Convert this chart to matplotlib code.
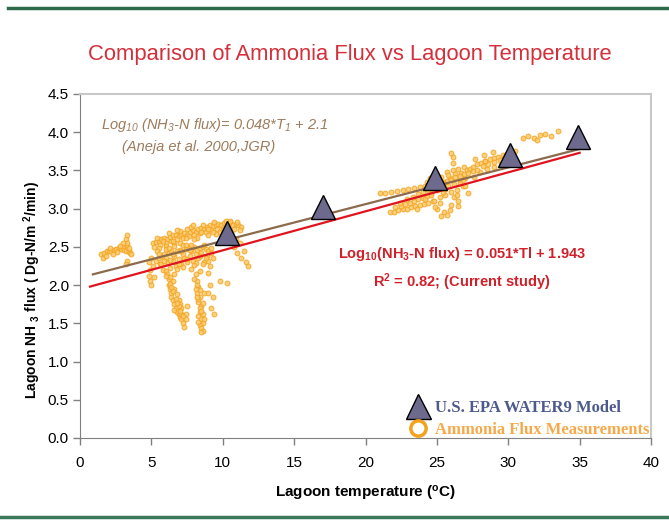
import numpy as np
import matplotlib
matplotlib.use("Agg")
import matplotlib.pyplot as plt
from matplotlib.lines import Line2D

plt.rcParams['font.family'] = ['Liberation Sans Narrow', 'Liberation Sans', 'DejaVu Sans']
plt.rcParams['mathtext.default'] = 'regular'

low_x = [1.5, 1.7, 1.9, 2.0, 2.2, 2.4, 2.5, 2.7, 2.9, 3.0, 3.1, 3.2, 3.3, 3.4, 3.5, 3.6,
	3.2, 3.3, 3.3, 3.2, 3.3, 1.6, 2.1, 2.6, 3.0, 1.8, 2.3, 2.8, 3.4]
low_y = [2.40, 2.42, 2.44, 2.45, 2.44, 2.46, 2.47, 2.48, 2.47, 2.50, 2.46, 2.44, 2.52, 2.45, 2.42, 2.40,
	2.60, 2.66, 2.32, 2.28, 2.55, 2.36, 2.48, 2.43, 2.55, 2.38, 2.41, 2.51, 2.48]

band_x = [5.1, 5.3, 5.5, 5.7, 5.9, 6.1, 6.3, 6.5, 6.7, 6.9, 7.1, 7.3, 7.5, 7.7, 7.9, 8.1,
	8.3, 8.5, 8.7, 8.9, 9.1, 9.3, 9.5, 9.7, 9.9, 10.1, 10.3, 10.5, 10.7, 10.9, 11.1, 11.3,
	5.2, 5.6, 6.0, 6.4, 6.8, 7.2, 7.6, 8.0, 8.4, 8.8, 9.2, 9.6, 10.0, 10.4, 10.8, 11.2,
	5.4, 5.8, 6.2, 6.6, 7.0, 7.4, 7.8, 8.2, 8.6, 9.0, 9.4, 9.8, 10.2, 10.6, 11.0,
	5.5, 6.0, 6.5, 7.0, 7.5, 8.0, 8.5, 9.0, 9.5, 10.0, 10.5, 6.8, 7.9, 9.3, 10.7]
band_y = [2.55, 2.56, 2.58, 2.60, 2.62, 2.60, 2.63, 2.65, 2.66, 2.64, 2.67, 2.68, 2.66, 2.70, 2.72, 2.70,
	2.73, 2.75, 2.74, 2.76, 2.78, 2.77, 2.79, 2.80, 2.78, 2.81, 2.80, 2.82, 2.79, 2.80, 2.78, 2.76,
	2.50, 2.52, 2.55, 2.58, 2.60, 2.62, 2.64, 2.65, 2.68, 2.70, 2.72, 2.74, 2.75, 2.76, 2.74, 2.72,
	2.62, 2.57, 2.68, 2.55, 2.71, 2.61, 2.76, 2.62, 2.79, 2.66, 2.83, 2.70, 2.84, 2.69, 2.83,
	2.48, 2.51, 2.58, 2.55, 2.73, 2.60, 2.69, 2.73, 2.67, 2.72, 2.84, 2.72, 2.78, 2.69, 2.62]

mass_x = [4.8, 4.9, 5.0, 5.1, 5.3, 5.5, 5.7, 5.9, 6.0, 6.2, 6.4, 6.6, 6.8, 7.0, 7.2, 7.4, 7.6,
	7.8, 8.0, 8.2, 8.4, 8.6, 8.8, 9.0, 9.2, 5.6, 6.1, 6.5, 6.9, 7.3, 7.7, 8.1, 8.5, 8.9, 9.3,
	5.8, 6.3, 6.7, 7.1, 7.5, 7.9, 8.3, 8.7, 9.1, 4.9, 5.0, 5.2, 4.8,
	5.4, 5.7, 6.0, 6.3, 6.6, 6.9, 7.2, 7.5, 7.8, 8.1, 8.4, 8.7, 9.0, 5.5, 6.2, 6.8, 7.4, 8.0,
	8.6, 9.2, 6.0, 6.6, 7.2, 7.8, 8.4, 9.0, 5.9, 6.5, 7.1, 7.7, 8.8]
mass_y = [2.30, 2.20, 2.35, 2.25, 2.32, 2.36, 2.38, 2.40, 2.35, 2.42, 2.44, 2.38, 2.45, 2.46, 2.40, 2.47, 2.48,
	2.44, 2.50, 2.46, 2.48, 2.50, 2.47, 2.45, 2.42, 2.28, 2.30, 2.32, 2.34, 2.36, 2.38, 2.40, 2.42, 2.38, 2.35,
	2.20, 2.22, 2.25, 2.28, 2.30, 2.32, 2.35, 2.30, 2.25, 2.05, 2.00, 2.10, 2.12,
	2.44, 2.27, 2.47, 2.33, 2.51, 2.28, 2.52, 2.34, 2.53, 2.29, 2.38, 2.53, 2.31, 2.40, 2.48, 2.21, 2.53, 2.26,
	2.27, 2.49, 2.18, 2.15, 2.23, 2.21, 2.19, 2.16, 2.31, 2.41, 2.44, 2.46, 2.36]

streak1_x = [6.1, 6.2, 6.2, 6.3, 6.4, 6.4, 6.5, 6.6, 6.6, 6.7, 6.8, 6.9, 6.9, 7.0, 7.1, 7.1, 7.2,
	7.3, 6.5, 6.8, 7.0, 7.4, 7.5, 6.3, 6.0, 6.3, 6.5, 6.7, 6.9, 7.1, 6.4, 6.6, 6.8, 7.0, 7.2, 7.4]
streak1_y = [2.15, 2.08, 2.00, 1.95, 1.90, 1.85, 1.80, 1.75, 1.95, 1.70, 1.65, 1.62, 1.80, 1.58, 1.55, 1.70, 1.50,
	1.45, 2.05, 1.88, 1.75, 1.62, 1.72, 2.10, 2.12, 2.02, 1.92, 1.82, 1.72, 1.62, 1.98, 1.68, 1.76, 1.66, 1.60, 1.55]

streak2_x = [8.1, 8.2, 8.3, 8.2, 8.4, 8.3, 8.5, 8.4, 8.3, 8.5, 8.6, 8.4, 8.5, 8.6, 8.5, 8.4, 8.3, 8.6, 8.2, 8.7,
	8.0, 8.3, 8.5, 8.6, 8.2, 8.4, 8.7, 8.1]
streak2_y = [2.15, 2.05, 1.98, 1.90, 1.85, 1.78, 1.72, 1.65, 1.60, 1.55, 1.50, 1.48, 1.44, 1.40, 1.38, 1.70,
	1.82, 1.62, 2.00, 1.90, 2.08, 1.52, 1.66, 1.76, 1.84, 1.94, 1.56, 1.95]

side_x = [9.1, 9.3, 9.2, 9.4, 9.0, 9.8, 10.3, 10.8, 11.0, 11.3, 11.6, 11.8, 11.2, 10.9, 11.5]
side_y = [2.00, 1.85, 1.70, 1.62, 1.90, 2.05, 2.03, 2.50, 2.42, 2.35, 2.30, 2.25, 2.55, 2.60, 2.45]

warm_x = [21.7, 22.0, 22.3, 22.6, 22.9, 23.2, 23.5, 23.8, 24.1, 24.4, 24.7, 22.1, 22.5, 22.8, 23.1, 23.4,
	23.7, 24.0, 24.3,
	21.0, 21.4, 21.8, 22.2, 22.6, 23.0, 23.4, 23.8, 24.2,
	24.3, 24.5, 24.7, 24.9, 25.1, 25.3, 25.5, 25.7, 25.9, 26.1, 26.3, 26.5, 26.7, 26.9, 27.1, 27.3,
	24.6, 25.0, 25.4, 25.8, 26.2, 26.6, 27.0, 24.8, 25.2, 25.6, 26.0, 26.4, 26.8, 25.0, 25.5, 26.0,
	26.5, 27.2, 25.3, 25.9, 26.1, 26.1, 26.0,
	27.5, 27.8, 28.1, 28.4, 28.7, 29.0, 29.3, 29.6, 29.9, 30.2, 30.5, 28.0, 28.5, 29.0, 29.5, 30.0,
	27.7, 28.3, 28.9,
	31.0, 31.4, 31.8, 32.2, 32.6, 33.0, 33.5, 32.0,
	22.4, 22.9, 23.3, 23.7, 24.0, 24.4, 24.8, 25.1, 25.4, 25.7, 26.0, 26.3, 26.6, 26.9, 27.2, 27.5,
	27.8, 28.2, 28.6, 29.0, 29.4, 29.8, 24.2, 24.6, 25.0, 25.4, 25.8, 26.2, 26.6, 27.0, 25.2, 25.6,
	26.4, 26.8, 27.6, 28.4, 23.6, 24.9, 25.7, 26.5]
warm_y = [2.95, 2.96, 2.98, 2.99, 3.00, 3.02, 3.03, 3.05, 3.06, 3.08, 3.10, 3.02, 3.04, 3.06, 3.08, 3.10,
	3.12, 3.14, 3.16,
	3.20, 3.21, 3.22, 3.23, 3.25, 3.26, 3.27, 3.28, 3.30,
	3.35, 3.40, 3.30, 3.45, 3.38, 3.42, 3.35, 3.48, 3.40, 3.50, 3.45, 3.52, 3.47, 3.55, 3.50, 3.52,
	3.20, 3.25, 3.28, 3.30, 3.32, 3.38, 3.40, 3.10, 3.15, 3.18, 3.22, 3.25, 3.30, 3.00, 2.95, 3.05,
	3.10, 3.20, 2.90, 2.98, 3.60, 3.68, 3.73,
	3.55, 3.58, 3.60, 3.62, 3.65, 3.66, 3.68, 3.70, 3.72, 3.74, 3.75, 3.48, 3.52, 3.55, 3.60, 3.63,
	3.65, 3.70, 3.74,
	3.92, 3.95, 3.93, 3.96, 3.98, 3.95, 4.02, 3.90,
	3.07, 3.12, 3.15, 3.19, 3.22, 3.24, 3.28, 3.31, 3.33, 3.36, 3.38, 3.41, 3.43, 3.45, 3.47, 3.49,
	3.51, 3.56, 3.59, 3.61, 3.64, 3.68, 3.12, 3.18, 3.35, 3.22, 3.44, 3.15, 3.33, 3.29, 3.08, 3.26,
	3.18, 3.38, 3.42, 3.62, 3.00, 3.02, 2.92, 3.03]

# WATER9 model points
model_x = [10.3, 17.0, 24.9, 30.1, 34.9]
model_y = [2.68, 3.02, 3.40, 3.70, 3.94]

# regression lines (end points)
aneja_x = [0.9, 35.0]
aneja_y = [2.14, 3.78]
study_x = [0.7, 35.0]
study_y = [1.98, 3.73]

xticks = [0, 5, 10, 15, 20, 25, 30, 35, 40]
yticks = [0.0, 0.5, 1.0, 1.5, 2.0, 2.5, 3.0, 3.5, 4.0, 4.5]

orange = '#f3a21c'
fig = plt.figure(figsize=(6.69, 5.22), dpi=100)
ax = fig.add_axes([0.1196, 0.161, 0.8535, 0.659])

meas_x = low_x + band_x + mass_x + streak1_x + streak2_x + side_x + warm_x
meas_y = low_y + band_y + mass_y + streak1_y + streak2_y + side_y + warm_y
ax.plot(meas_x, meas_y, 'o', ms=3.5, mfc='#fbc96a', mec=orange, mew=0.7, alpha=0.85, zorder=2)

ax.plot(aneja_x, aneja_y, color='#8c6a4c', lw=1.6, zorder=3)
ax.plot(study_x, study_y, color='#e0141e', lw=1.6, zorder=3)
ax.plot(model_x, model_y, '^', ms=17, mfc='#6e6a8e', mec='black', mew=1.0, zorder=4)

ax.set_xlim(0, 40)
ax.set_ylim(0, 4.5)
ax.set_xticks(xticks)
ax.set_yticks(yticks)
ax.set_yticklabels(['%.1f' % v for v in yticks])
ax.tick_params(axis='both', direction='out', length=5, width=1, color='#808080', labelsize=11)
ax.tick_params(axis='x', pad=8)
ax.tick_params(axis='y', pad=3)
for s in ['left', 'bottom']:
	ax.spines[s].set_color('#808080')
for s in ['top', 'right']:
	ax.spines[s].set_color('#c8c8c8')
	ax.spines[s].set_linewidth(1.5)

ax.set_xlabel('Lagoon temperature ($^o$C)', fontsize=11, fontweight='bold', labelpad=10)
fig.text(0.048, 0.445, 'Lagoon NH $_3$ flux ( Dg-N/m $^2$/min)', rotation=90,
	fontsize=10, fontweight='bold', ha='center', va='center')

fig.text(0.523, 0.895, 'Comparison of Ammonia Flux vs Lagoon Temperature',
	fontsize=15.8, color='#d42f3a', ha='center', va='center', family=['Liberation Sans', 'DejaVu Sans'])

brown = '#9c7c5c'
ax.text(1.5, 4.10, 'Log$_{10}$ (NH$_3$-N flux)= 0.048*T$_1$ + 2.1', color=brown,
	fontsize=10.5, style='italic', ha='left', va='center')
ax.text(8.3, 3.80, '(Aneja et al. 2000,JGR)', color=brown,
	fontsize=10.5, style='italic', ha='center', va='center')

red = '#d0202a'
ax.text(26.75, 2.41, 'Log$_{10}$(NH$_3$-N flux) = 0.051*Tl + 1.943', color=red,
	fontsize=10.5, fontweight='bold', ha='center', va='center')
ax.text(26.75, 2.04, 'R$^2$ = 0.82; (Current study)', color=red,
	fontsize=10.5, fontweight='bold', ha='center', va='center')

handles = [Line2D([], [], ls='none', marker='^', ms=18, mfc='#6e6a8e', mec='black', mew=1.0),
	Line2D([], [], ls='none', marker='o', ms=11, mfc='none', mec=orange, mew=2.5)]
leg = ax.legend(handles, ['U.S. EPA WATER9 Model', 'Ammonia Flux Measurements'],
	loc='lower right', bbox_to_anchor=(1.0, -0.005), frameon=False, borderaxespad=0,
	borderpad=0.1, handlelength=1.2, handletextpad=0.4, labelspacing=0.35,
	prop={'family': 'Liberation Serif', 'weight': 'bold', 'size': 12})
leg.get_texts()[0].set_color('#4d5a8c')
leg.get_texts()[1].set_color('#f6a94a')

# green rules at the top and bottom of the slide
fig.add_artist(Line2D([0.012, 1.0], [0.985, 0.985], color='#2e6b4a', lw=2.5, transform=fig.transFigure))
fig.add_artist(Line2D([0.0, 1.0], [0.010, 0.010], color='#3a7a5a', lw=2.5, transform=fig.transFigure))

fig.savefig('out.png', dpi=100)
